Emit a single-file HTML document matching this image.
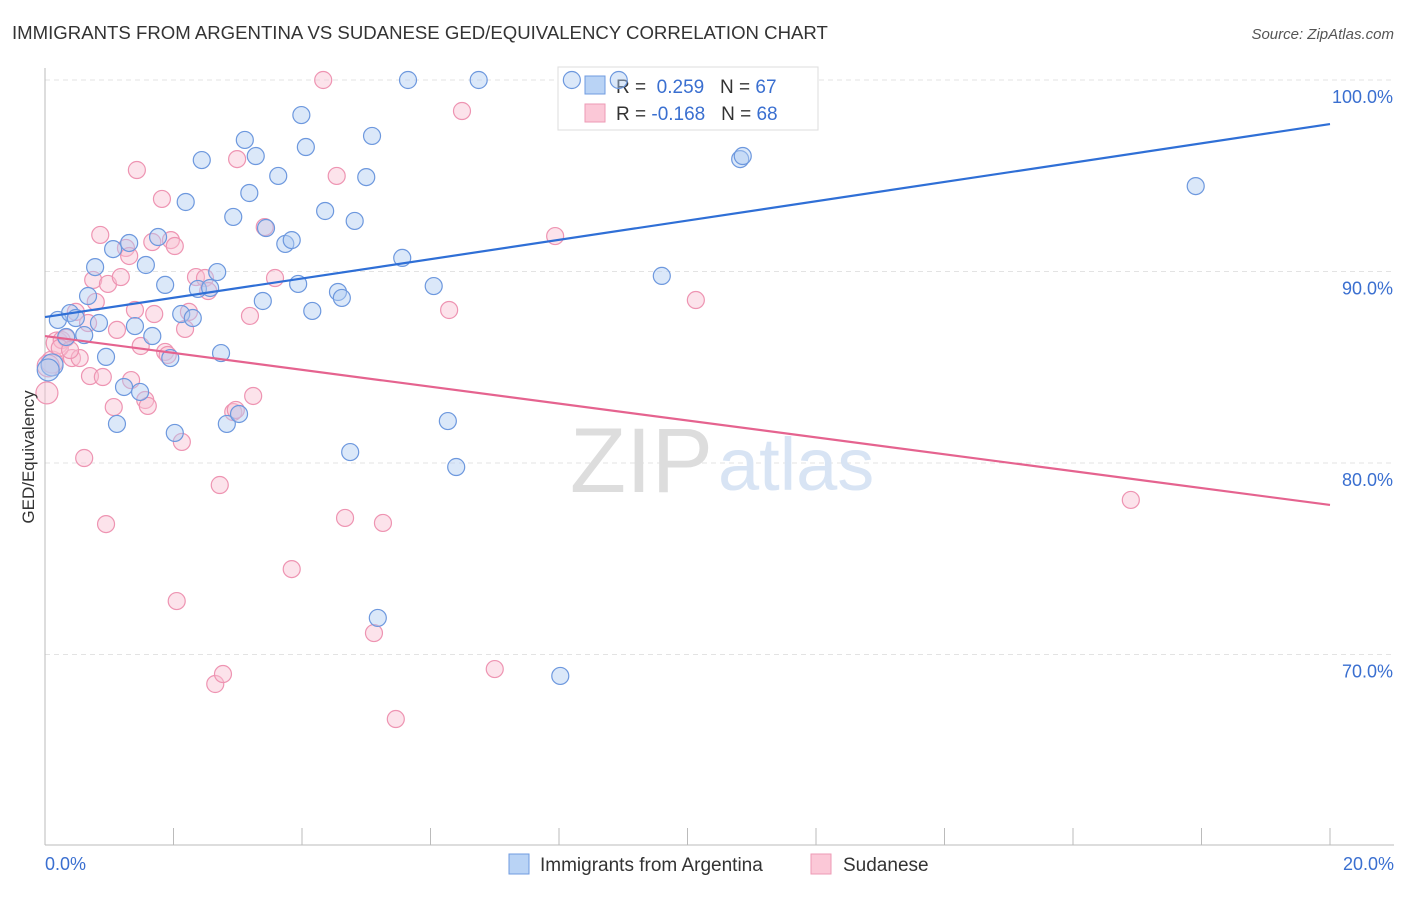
<!DOCTYPE html>
<html><head><meta charset="utf-8"><style>
body{margin:0;background:#fff;font-family:"Liberation Sans",sans-serif;}
svg text{font-family:"Liberation Sans",sans-serif;}
</style></head><body>
<svg id="chart" width="1406" height="892">
<text x="12" y="39" font-size="18.6" fill="#333">IMMIGRANTS FROM ARGENTINA VS SUDANESE GED/EQUIVALENCY CORRELATION CHART</text>
<text x="1394" y="39" font-size="15" fill="#555" font-style="italic" text-anchor="end">Source: ZipAtlas.com</text>
<g id="grid"></g>
<g id="axes"></g>
<text x="713" y="492" font-size="92" fill="#ddd" text-anchor="end" font-family="Liberation Serif">ZIP</text>
<text x="718" y="490" font-size="74" fill="#d8e4f4">atlas</text>
<g>
<rect x="558" y="67" width="260" height="63" fill="#fff" stroke="#ddd"/>
<rect x="585" y="76" width="20" height="18" fill="#b9d3f5" stroke="#6f9be0"/>
<rect x="585" y="104" width="20" height="18" fill="#fbc8d7" stroke="#ee9ab4"/>
<text x="616" y="93" font-size="19" fill="#333">R = <tspan fill="#3a6fd0">&#160;0.259</tspan>&#160;&#160;&#160;N = <tspan fill="#3a6fd0">67</tspan></text>
<text x="616" y="120" font-size="19" fill="#333">R = <tspan fill="#3a6fd0">-0.168</tspan>&#160;&#160;&#160;N = <tspan fill="#3a6fd0">68</tspan></text>
</g>
<g id="marks"></g>
<text transform="translate(34,457) rotate(-90)" font-size="17" fill="#333" text-anchor="middle">GED/Equivalency</text>
<g>
<rect x="509" y="854" width="20" height="20" fill="#b9d3f5" stroke="#6f9be0"/>
<text x="540" y="871" font-size="19" fill="#333">Immigrants from Argentina</text>
<rect x="811" y="854" width="20" height="20" fill="#fbc8d7" stroke="#ee9ab4"/>
<text x="843" y="871" font-size="19" fill="#333">Sudanese</text>
</g>
</svg>
<script>
const blueX=[0.11,0.20,0.33,0.39,0.48,0.61,0.67,0.78,0.84,0.95,1.06,1.12,1.23,1.31,1.40,1.48,1.57,1.67,1.76,1.87,1.95,2.02,2.12,2.19,2.30,2.38,2.44,2.57,2.68,2.74,2.83,2.93,3.02,3.11,3.18,3.28,3.39,3.44,3.63,3.74,3.84,3.94,3.99,4.06,4.16,4.36,4.56,4.62,4.75,4.82,5.00,5.09,5.18,5.56,5.65,6.05,6.27,6.40,6.75,8.02,8.20,8.93,9.60,10.82,10.86,17.91,0.05];
const blueY=[85.12,87.47,86.58,87.83,87.57,86.68,88.72,90.23,87.31,85.54,91.17,82.04,83.97,91.49,87.15,83.71,90.34,86.63,91.80,89.30,85.48,81.57,87.78,93.63,87.57,89.09,95.82,89.14,89.97,85.74,82.04,92.85,82.56,96.87,94.10,96.03,88.46,92.27,94.99,91.44,91.64,89.35,98.17,96.50,87.94,93.16,88.93,88.62,80.57,92.64,94.93,97.08,71.91,90.71,100,89.24,82.19,79.79,100,68.88,100,100,89.77,95.87,96.03,94.46,84.86];
const pinkX=[0.03,0.11,0.19,0.26,0.33,0.42,0.48,0.54,0.61,0.67,0.70,0.75,0.79,0.86,0.90,0.95,0.98,1.07,1.12,1.18,1.26,1.31,1.34,1.40,1.43,1.49,1.56,1.60,1.67,1.70,1.82,1.87,1.91,1.96,2.02,2.05,2.13,2.18,2.24,2.35,2.49,2.54,2.65,2.72,2.77,2.93,2.99,3.19,3.24,3.42,3.58,3.84,4.33,4.54,4.67,5.12,5.26,5.46,6.29,6.49,7.00,7.94,10.13,16.90,0.05,0.23,0.39,2.97];
const pinkY=[83.66,85.27,86.27,86.42,86.53,85.48,87.89,85.48,80.26,87.31,84.54,89.56,88.41,91.91,84.49,76.81,89.35,82.92,86.95,89.71,91.23,90.81,84.33,87.99,95.30,86.11,83.29,82.98,91.54,87.78,93.79,85.80,85.64,91.64,91.33,72.79,81.10,87.00,87.89,89.71,89.66,88.98,68.46,78.85,68.98,82.66,95.87,87.68,83.50,92.32,89.66,74.46,100,94.99,77.13,71.12,76.87,66.63,87.99,98.38,69.24,91.85,88.51,78.07,85.07,86.01,85.90,82.77];
const blueFit=[87.62,97.70];
const pinkFit=[86.63,77.81];
const yTicks=[100,90,80,70];
const yTickLabels=["100.0%","90.0%","80.0%","70.0%"];
const xTicks=[0,2,4,6,8,10,12,14,16,18,20];

const NS="http://www.w3.org/2000/svg";
const sx=v=>45+v/20*1285;
const sy=v=>80+(100-v)*19.15;
function mk(tag,attrs,parent){const e=document.createElementNS(NS,tag);for(const k in attrs)e.setAttribute(k,attrs[k]);parent.appendChild(e);return e;}
const grid=document.getElementById('grid'),axes=document.getElementById('axes'),marks=document.getElementById('marks');
yTicks.forEach((t,i)=>{
 const l=mk('line',{x1:45,x2:1394,y1:sy(t),y2:sy(t),stroke:'#e3e3e3','stroke-dasharray':'5,4'},grid);
 
 
 const tx=mk('text',{x:1393,y:sy(t)+23,'font-size':18,fill:'#3a6fd0','text-anchor':'end'},axes);
 tx.textContent=yTickLabels[i];
 
 
});
mk('line',{x1:45,x2:45,y1:68,y2:845,stroke:'#bbb'},axes);
mk('line',{x1:45,x2:1394,y1:845,y2:845,stroke:'#bbb'},axes);
xTicks.forEach(t=>{const l=mk('line',{x1:sx(t),x2:sx(t),y1:828,y2:845,stroke:'#bbb'},axes);
 
 });
let t0=mk('text',{x:45,y:870,'font-size':18,fill:'#3a6fd0'},axes);t0.textContent="0.0%";


let t1=mk('text',{x:1394,y:870,'font-size':18,fill:'#3a6fd0','text-anchor':'end'},axes);t1.textContent="20.0%";



function pts(X,Y,fill,stroke,name){X.forEach((x,i)=>{
 const c=mk('circle',{cx:sx(x),cy:sy(Y[i]),r:(x<0.2?11:8.5),fill:fill,'fill-opacity':0.45,stroke:stroke,'stroke-width':1.2},marks);
 
 });}
pts(pinkX,pinkY,'#f9c0d2','#ee94b2','sudanese-point');
pts(blueX,blueY,'#b0ccf2','#6d98de','argentina-point');
const bl=mk('line',{x1:sx(0),y1:sy(blueFit[0]),x2:sx(20),y2:sy(blueFit[1]),stroke:'#2f6fd6','stroke-width':2.2},marks);


const pl=mk('line',{x1:sx(0),y1:sy(pinkFit[0]),x2:sx(20),y2:sy(pinkFit[1]),stroke:'#e5638f','stroke-width':2.2},marks);


</script>
</body></html>
